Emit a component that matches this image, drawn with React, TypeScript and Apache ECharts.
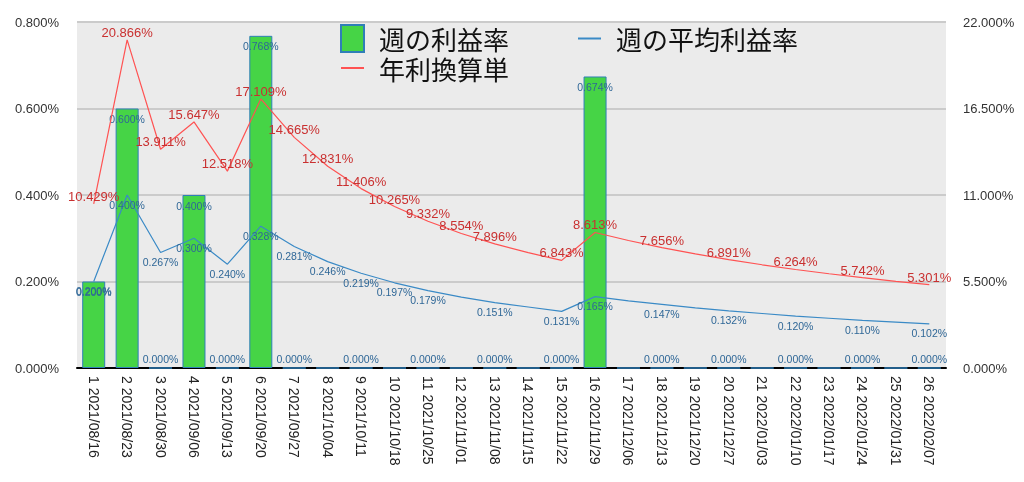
import React, { useEffect, useRef } from "react";
import * as echarts from "echarts";

const categories = [
  "1 2021/08/16", "2 2021/08/23", "3 2021/08/30", "4 2021/09/06", "5 2021/09/13",
  "6 2021/09/20", "7 2021/09/27", "8 2021/10/04", "9 2021/10/11", "10 2021/10/18",
  "11 2021/10/25", "12 2021/11/01", "13 2021/11/08", "14 2021/11/15", "15 2021/11/22",
  "16 2021/11/29", "17 2021/12/06", "18 2021/12/13", "19 2021/12/20", "20 2021/12/27",
  "21 2022/01/03", "22 2022/01/10", "23 2022/01/17", "24 2022/01/24", "25 2022/01/31",
  "26 2022/02/07",
];

const weeklyRate = [
  0.2, 0.6, 0, 0.4, 0, 0.768, 0, 0, 0, 0, 0, 0, 0, 0, 0, 0.674, 0, 0, 0, 0, 0, 0, 0, 0, 0, 0,
];

const averageRate = [
  0.2, 0.4, 0.267, 0.3, 0.24, 0.328, 0.281, 0.246, 0.219, 0.197, 0.179, 0.164, 0.151,
  0.141, 0.131, 0.165, 0.155, 0.147, 0.139, 0.132, 0.126, 0.12, 0.115, 0.11, 0.106, 0.102,
];

const annualRate = [
  10.429, 20.866, 13.911, 15.647, 12.518, 17.109, 14.665, 12.831, 11.406, 10.265, 9.332,
  8.554, 7.896, 7.332, 6.843, 8.613, 8.106, 7.656, 7.253, 6.891, 6.563, 6.264, 5.992,
  5.742, 5.512, 5.301,
];

// 1-based week numbers whose data labels are not shown in the reference
const weeklyHiddenLabels = [8, 10, 12, 14, 17, 19, 21, 23, 25];
const averageHiddenLabels = [12, 14, 17, 19, 21, 23, 25];
const annualHiddenLabels = [14, 17, 19, 21, 23, 25];

const leftTicks = { min: 0, max: 0.8, interval: 0.2 };
const rightTicks = { min: 0, max: 22, interval: 5.5 };

const pct = (v: number) => v.toFixed(3) + "%";

export default function App() {
  const ref = useRef<HTMLDivElement>(null);

  useEffect(() => {
    if (!ref.current) return;
    const chart = echarts.init(ref.current, undefined, { renderer: "svg" });

    const blueLabel = "#2f6797";
    const redLabel = "#c93030";

    const barData = weeklyRate.map((v, i) => ({
      value: v,
      label: weeklyHiddenLabels.includes(i + 1)
        ? { show: false }
        : v === 0
        ? { show: true, position: "top", distance: 3 }
        : { show: true, position: "insideTop", distance: 5 },
    }));
    const avgData = averageRate.map((v, i) => ({
      value: v,
      label: { show: !averageHiddenLabels.includes(i + 1) },
    }));
    const annualData = annualRate.map((v, i) => ({
      value: v,
      label: { show: !annualHiddenLabels.includes(i + 1) },
    }));

    const legendText = {
      fontSize: 26,
      lineHeight: 26,
      fontFamily: "Noto Sans CJK JP",
      color: "#111",
      padding: [0, 0, 0, 10],
    };

    chart.setOption({
      animation: false,
      textStyle: { fontFamily: "Liberation Sans" },
      grid: {
        left: 77,
        right: 78,
        top: 22,
        bottom: 114,
        show: true,
        backgroundColor: "#ebebeb",
        borderWidth: 0,
      },
      legend: [
        {
          data: [
            { name: "週の利益率", icon: "rect" },
            { name: "週の平均利益率", itemStyle: { opacity: 0 } },
          ],
          left: 340,
          top: 24,
          padding: 0,
          itemWidth: 23,
          itemHeight: 27,
          itemGap: 68,
          selectedMode: false,
          textStyle: legendText,
        },
        {
          data: [{ name: "年利換算単", itemStyle: { opacity: 0 } }],
          left: 340,
          top: 55,
          padding: 0,
          itemWidth: 23,
          itemHeight: 27,
          selectedMode: false,
          textStyle: legendText,
        },
      ],
      xAxis: {
        type: "category",
        data: categories,
        axisLine: { lineStyle: { color: "#000", width: 2 } },
        axisTick: { show: false },
        axisLabel: {
          interval: 0,
          rotate: -90,
          fontSize: 14,
          color: "#222",
          margin: 8,
        },
        splitLine: { show: false },
      },
      yAxis: [
        {
          type: "value",
          ...leftTicks,
          axisLine: { show: false },
          axisTick: { show: false },
          axisLabel: { formatter: pct, fontSize: 13, color: "#333", margin: 18 },
          splitLine: { lineStyle: { color: "#cbcbcb", width: 2 } },
        },
        {
          type: "value",
          ...rightTicks,
          axisLine: { show: false },
          axisTick: { show: false },
          axisLabel: { formatter: pct, fontSize: 13, color: "#333", margin: 17 },
          splitLine: { show: false },
        },
      ],
      series: [
        {
          name: "週の利益率",
          type: "bar",
          yAxisIndex: 0,
          data: barData,
          barWidth: 23,
          itemStyle: { color: "#46d446", borderColor: "#2f7fb8", borderWidth: 1 },
          label: {
            show: true,
            formatter: (p: any) => pct(p.value),
            fontSize: 10.5,
            color: blueLabel,
          },
          z: 1,
        },
        {
          name: "週の平均利益率",
          type: "line",
          yAxisIndex: 0,
          data: avgData,
          symbol: "circle",
          symbolSize: 0.1,
          showAllSymbol: true,
          lineStyle: { color: "#3a8ac6", width: 1.2 },
          itemStyle: { color: "#3a8ac6" },
          label: {
            show: true,
            position: "bottom",
            distance: 4,
            formatter: (p: any) => pct(p.value),
            fontSize: 10.5,
            color: blueLabel,
          },
          z: 3,
        },
        {
          name: "年利換算単",
          type: "line",
          yAxisIndex: 1,
          data: annualData,
          symbol: "circle",
          symbolSize: 0.1,
          showAllSymbol: true,
          lineStyle: { color: "#ff5252", width: 1.2 },
          itemStyle: { color: "#ff5252" },
          label: {
            show: true,
            position: "top",
            distance: 1,
            formatter: (p: any) => pct(p.value),
            fontSize: 13,
            color: redLabel,
          },
          z: 4,
        },
      ],
    });

    return () => chart.dispose();
  }, []);

  return (
    <div
      ref={ref}
      style={{ position: "fixed", left: 0, top: 0, width: 1024, height: 482 }}
    />
  );
}
